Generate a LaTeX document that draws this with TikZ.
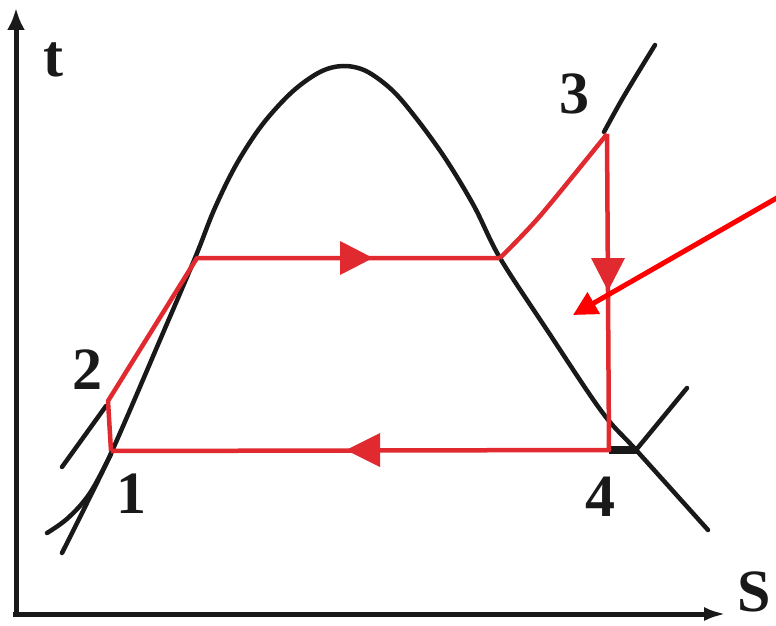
\documentclass[tikz,border=0pt]{standalone}
\usepackage{fontspec}
\setmainfont{Liberation Serif}
\usetikzlibrary{arrows.meta}
\definecolor{cyc}{RGB}{224,42,48}
\definecolor{ptr}{RGB}{255,0,0}
\definecolor{ink}{RGB}{25,25,25}
\tikzset{
  curve/.style={draw=ink, line width=4.5pt, line cap=round, line join=round},
  cycline/.style={draw=cyc, line width=4.5pt, line join=round},
  axisline/.style={draw=ink, line width=5pt},
  lbl/.style={font=\bfseries\fontsize{60}{60}\selectfont, text=ink, inner sep=0pt},
}
\begin{document}
\begin{tikzpicture}[x=1pt,y=-1pt]
\useasboundingbox (0,0) rectangle (776,626);
% axes
\coordinate (O) at (16,614);
\coordinate (ytop) at (16,8);
\coordinate (xend) at (726,614);
\draw[axisline,-{Latex[length=22pt,width=18pt]}] (O) -- (ytop);
\draw[axisline,-{Latex[length=22pt,width=14pt]}] (O) -- (xend);
\draw[ink, line width=5pt] (13,614) -- (O);
% saturation dome
\draw[curve] plot[smooth, tension=0.55] coordinates {(62,553) (85,507) (107,462) (127,417) (157,347) (195,258) (214,210) (236,165) (262,125) (292,92) (320,72) (343,66) (366,71) (392,90) (416,118) (445,158) (474,206) (500,258) (547,330) (602,412) (637,451) (708,530)};
% liquid-side lines
\draw[curve] plot[smooth, tension=0.6] coordinates {(47,533) (68,518) (90,493) (111,454)};
\draw[curve] (62,467) -- (106,406);
% high-pressure isobar (superheat)
\draw[curve] plot[smooth, tension=0.6] coordinates {(604,132) (624,96) (655,45)};
% low-pressure isobar (superheat)
\draw[curve] (636,450) -- (687,388);
\draw[draw=ink, line width=8pt] (609,450) -- (637,450);
% cycle points
\coordinate (p1) at (111,451);
\coordinate (p2) at (108,401);
\coordinate (pa) at (197,258);
\coordinate (pb) at (500,258);
\coordinate (p3) at (607,134);
\coordinate (p4) at (609,450);
% cycle
\draw[cycline] (p1) -- (p2) -- (pa) -- (pb);
\draw[cycline] plot[smooth, tension=0.5] coordinates {(500,258) (540,216) (607,134)};
\draw[cycline] (p3) -- (p4) -- (p1);
% direction triangles
\fill[cyc] (340,241) -- (373,258) -- (340,275) -- cycle;
\fill[cyc] (591,258) -- (608,291) -- (625,258) -- cycle;
\fill[cyc] (380,433) -- (346,450) -- (380,467) -- cycle;
% pointer arrow
\coordinate (ps) at (782,195);
\coordinate (pt) at (573,315);
\draw[draw=ptr, line width=5pt, -{Triangle[length=24pt,width=24pt]}] (ps) -- (pt);
% labels
\node[lbl] (lt) at (53,60) {t};
\node[lbl] (l2) at (87,370) {2};
\node[lbl] (l1) at (131,494) {1};
\node[lbl] (l3) at (574,94) {3};
\node[lbl] (l4) at (600,497) {4};
\node[lbl, anchor=base east] (lS) at (771,611) {S};
\end{tikzpicture}
\end{document}
